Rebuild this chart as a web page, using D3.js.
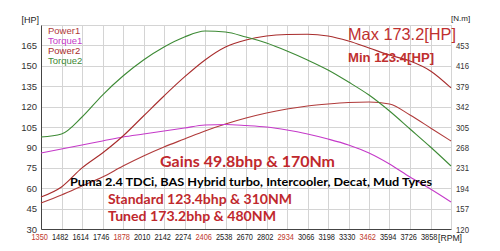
<!DOCTYPE html>
<html>
<head>
<meta charset="utf-8">
<script src="https://cdn.jsdelivr.net/npm/d3@7"></script>
<style>
  body { margin: 0; background: #fff; }
  svg { display: block; font-family: Arial, "Liberation Sans", sans-serif; }
</style>
</head>
<body>
<div id="chart"></div>
<script>
// rpm ticks (every 132 rpm) and readings taken at each of them
var rpm = [1350, 1482, 1614, 1746, 1878, 2010, 2142, 2274, 2406, 2538, 2670,
  2802, 2934, 3066, 3198, 3330, 3462, 3594, 3726, 3858, 3990];
var power1 = [49.1, 55, 61.6, 68.2, 76.3, 83.7, 90.3, 96.2, 102.1, 107.2, 111.6,
  115.3, 118.2, 120.4, 121.9, 123, 123.4, 121.9, 113.8, 104.3, 94.7];
var torque1 = [257.8, 265.1, 272.4, 279.6, 286.9, 292.3, 297.7, 303.2, 308.6, 309.5, 307.7,
  305, 299.6, 292.3, 283.2, 272.4, 257.8, 237.9, 214.3, 192.5, 169];
var power2 = [53.5, 60.9, 74.9, 85.9, 98.4, 113.1, 127.8, 141.8, 154.3, 163.8, 169,
  171.9, 173, 173.2, 171.9, 168.2, 163.1, 157.9, 153.5, 146.2, 133.7];
var torque2 = [286.9, 292.3, 323.1, 363, 397.5, 426.5, 450.1, 468.2, 479.1, 477.3, 468.2,
  457.3, 442.8, 426.5, 408.4, 386.6, 363, 334, 301.4, 268.7, 234.3];

var hpTicks = [30, 45, 60, 75, 90, 105, 120, 135, 150, 165];
var nmTicks = [120, 157, 194, 231, 268, 305, 342, 379, 416, 453];
var xTicks = rpm.slice(0, 20);
var redTicks = [1350, 1878, 2406, 2934, 3462];

var series = [
  { name: "Power1", values: power1, axis: "hp", color: "#b03a3a" },
  { name: "Torque1", values: torque1, axis: "nm", color: "#c53ac9" },
  { name: "Power2", values: power2, axis: "hp", color: "#a82c2c" },
  { name: "Torque2", values: torque2, axis: "nm", color: "#3d8a35" }
];

var width = 500, height = 251;
var plot = { left: 41, right: 451, top: 25, bottom: 229 };

var svg = d3.select("#chart").append("svg")
  .attr("width", width)
  .attr("height", height);

var x = d3.scaleLinear().domain([1350, 3990]).range([plot.left, plot.right]);
var yHp = d3.scaleLinear().domain([30, 180]).range([plot.bottom, plot.top]);
var yNm = d3.scaleLinear().domain([120, 490]).range([plot.bottom, plot.top]);

// grid
svg.append("g")
  .selectAll("line")
  .data(rpm)
  .enter()
  .append("line")
  .attr("x1", function (d) { return Math.round(x(d)) + 0.5; })
  .attr("x2", function (d) { return Math.round(x(d)) + 0.5; })
  .attr("y1", plot.top)
  .attr("y2", plot.bottom)
  .attr("stroke", "#d4d4d4")
  .attr("stroke-width", 1);

svg.append("g")
  .selectAll("line")
  .data(hpTicks.concat([180]))
  .enter()
  .append("line")
  .attr("x1", plot.left)
  .attr("x2", plot.right)
  .attr("y1", function (d) { return Math.round(yHp(d)) + 0.5; })
  .attr("y2", function (d) { return Math.round(yHp(d)) + 0.5; })
  .attr("stroke", "#d4d4d4")
  .attr("stroke-width", 1);

// axes
svg.append("g")
  .attr("transform", "translate(" + plot.left + ",0)")
  .call(d3.axisLeft(yHp).tickValues(hpTicks).tickSize(0).tickPadding(4))
  .call(function (g) {
    g.select(".domain").attr("stroke", "#444");
    g.selectAll("text").attr("font-size", 9.5).attr("fill", "#333").attr("font-family", "Arial");
  });

svg.append("g")
  .attr("transform", "translate(" + plot.right + ",0)")
  .call(d3.axisRight(yNm).tickValues(nmTicks).tickSize(0).tickPadding(5))
  .call(function (g) {
    g.select(".domain").attr("stroke", "#d4d4d4");
    g.selectAll("text").attr("font-size", 9.5).attr("fill", "#333").attr("font-family", "Arial")
      .attr("textLength", 13).attr("lengthAdjust", "spacingAndGlyphs");
  });

svg.append("g")
  .attr("transform", "translate(0," + plot.bottom + ")")
  .call(d3.axisBottom(x).tickValues(xTicks).tickSize(0).tickPadding(4).tickFormat(d3.format("d")))
  .call(function (g) {
    g.select(".domain").attr("stroke", "#444");
    g.selectAll("text")
      .attr("font-size", 9.5)
      .attr("font-family", "Arial")
      .attr("text-anchor", "start")
      .attr("dx", -10)
      .attr("textLength", 16.5)
      .attr("lengthAdjust", "spacingAndGlyphs")
      .attr("fill", function (d) { return redTicks.indexOf(d) >= 0 ? "#c0392b" : "#222"; });
  });

svg.append("text").attr("x", 39).attr("y", 23).attr("text-anchor", "end")
  .attr("font-size", 9).attr("fill", "#222").text("[HP]");
svg.append("text").attr("x", 451).attr("y", 21)
  .attr("font-size", 8).attr("fill", "#222").text("[N.m]");
svg.append("text").attr("x", 438).attr("y", 241)
  .attr("font-size", 9.5).attr("fill", "#222")
  .attr("textLength", 24).attr("lengthAdjust", "spacingAndGlyphs")
  .text("[RPM]");

// curves
var line = d3.line().curve(d3.curveMonotoneX);
series.forEach(function (s) {
  var yS = s.axis === "hp" ? yHp : yNm;
  svg.append("path")
    .datum(s.values)
    .attr("fill", "none")
    .attr("stroke", s.color)
    .attr("stroke-width", 1.1)
    .attr("d", line.x(function (d, i) { return x(rpm[i]); }).y(function (d) { return yS(d); }));
});

// legend
svg.selectAll("text.legend")
  .data(series)
  .enter()
  .append("text")
  .attr("class", "legend")
  .attr("x", 48)
  .attr("y", function (d, i) { return 34 + i * 10; })
  .attr("font-size", 9.5)
  .attr("fill", function (d) { return d.color; })
  .text(function (d) { return d.name; });

// annotations
svg.append("text").attr("x", 348).attr("y", 40)
  .attr("font-size", 16.5).attr("fill", "#c0302f")
  .attr("textLength", 108).attr("lengthAdjust", "spacingAndGlyphs")
  .text("Max 173.2[HP]");
svg.append("text").attr("x", 348).attr("y", 62)
  .attr("font-size", 13).attr("font-weight", "bold").attr("fill", "#c0302f")
  .attr("textLength", 86).attr("lengthAdjust", "spacingAndGlyphs")
  .text("Min 123.4[HP]");

var notes = [
  { t: "Gains 49.8bhp & 170Nm", x: 160, y: 167, size: 15.5, w: 175, c: "#c0282d" },
  { t: "Puma 2.4 TDCi, BAS Hybrid turbo, Intercooler, Decat, Mud Tyres", x: 70, y: 186, size: 11, w: 362, c: "#000" },
  { t: "Standard 123.4bhp & 310NM", x: 108, y: 204, size: 14, w: 184, c: "#c0282d" },
  { t: "Tuned 173.2bhp & 480NM", x: 108, y: 221, size: 14, w: 168, c: "#c0282d" }
];
svg.selectAll("text.note")
  .data(notes)
  .enter()
  .append("text")
  .attr("class", "note")
  .attr("x", function (d) { return d.x; })
  .attr("y", function (d) { return d.y; })
  .attr("font-family", "Lato, 'Open Sans', sans-serif")
  .attr("font-weight", "bold")
  .attr("font-size", function (d) { return d.size; })
  .attr("fill", function (d) { return d.c; })
  .attr("textLength", function (d) { return d.w; })
  .attr("lengthAdjust", "spacingAndGlyphs")
  .text(function (d) { return d.t; });
</script>
</body>
</html>
